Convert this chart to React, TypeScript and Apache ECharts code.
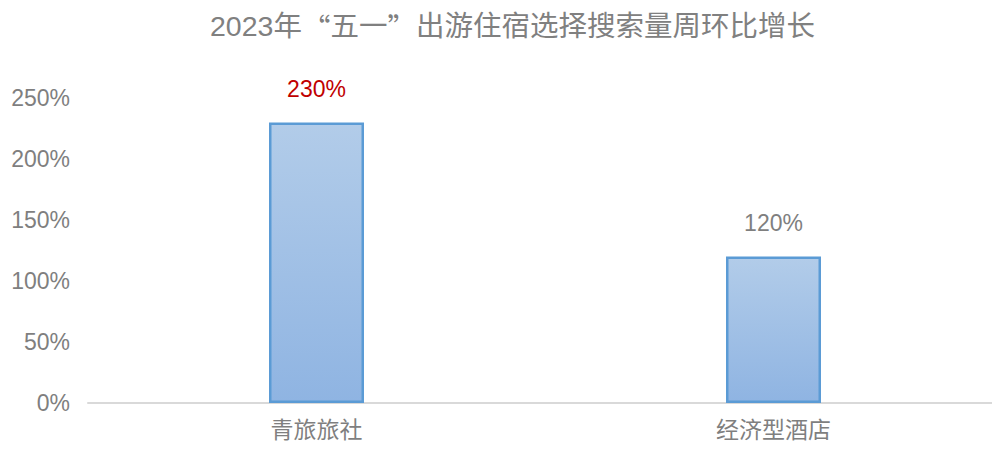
import React, { useEffect, useRef } from "react";
import * as echarts from "echarts";

const titlePre = "2023年";
const titleQuoteOpen = "“";
const titleMid = "五一";
const titleQuoteClose = "”";
const titlePost = "出游住宿选择搜索量周环比增长";
const categories = ["青旅旅社", "经济型酒店"];
const values = [230, 120];
const labelColors = ["#c00000", "#7f7f7f"];
const yTicks = { min: 0, max: 250, interval: 50 };

const FONT = "'Liberation Sans', 'Noto Sans CJK SC', sans-serif";
const CJK = "'Noto Sans CJK SC', sans-serif";

export default function App() {
  const ref = useRef<HTMLDivElement>(null);
  useEffect(() => {
    if (!ref.current) return;
    const chart = echarts.init(ref.current, null, { renderer: "svg" });
    chart.setOption({
      animation: false,
      backgroundColor: "#ffffff",
      textStyle: { fontFamily: FONT },
      title: {
        text:
          titlePre +
          "{q|" + titleQuoteOpen + "}" +
          titleMid +
          "{q|" + titleQuoteClose + "}" +
          titlePost,
        left: 205,
        top: 7,
        textStyle: {
          fontSize: 28.5,
          fontWeight: "normal",
          color: "#808080",
          fontFamily: FONT,
          rich: {
            q: { fontSize: 28.5, color: "#808080", fontFamily: CJK },
          },
        },
      },
      grid: { left: 88, width: 914, top: 98, bottom: 51, containLabel: false },
      xAxis: {
        type: "category",
        data: categories,
        axisLine: { lineStyle: { color: "#d9d9d9", width: 2 } },
        axisTick: { show: false },
        axisLabel: { color: "#7f7f7f", fontSize: 23, margin: 15, fontFamily: FONT },
      },
      yAxis: {
        type: "value",
        min: yTicks.min,
        max: yTicks.max,
        interval: yTicks.interval,
        axisLine: { show: false },
        axisTick: { show: false },
        splitLine: { show: false },
        axisLabel: {
          color: "#7f7f7f",
          fontSize: 23,
          margin: 18,
          fontFamily: FONT,
          formatter: (v: number) => v + "%",
        },
      },
      series: [
        {
          type: "bar",
          barWidth: 95,
          data: values.map((v, i) => ({
            value: v,
            label: { color: labelColors[i] },
          })),
          itemStyle: {
            color: new echarts.graphic.LinearGradient(0, 0, 0, 1, [
              { offset: 0, color: "#b2cce9" },
              { offset: 1, color: "#8fb4e2" },
            ]),
            borderColor: "#5b9bd5",
            borderWidth: 2.5,
          },
          label: {
            show: true,
            position: "top",
            distance: 22,
            fontSize: 23,
            fontFamily: FONT,
            formatter: (p: any) => p.value + "%",
          },
        },
      ],
    });
    return () => chart.dispose();
  }, []);
  return (
    <div
      style={{
        position: "fixed",
        left: 0,
        top: 0,
        width: 992,
        height: 454,
        overflow: "hidden",
        background: "#ffffff",
      }}
    >
      <div ref={ref} style={{ width: 1010, height: 454 }} />
    </div>
  );
}
